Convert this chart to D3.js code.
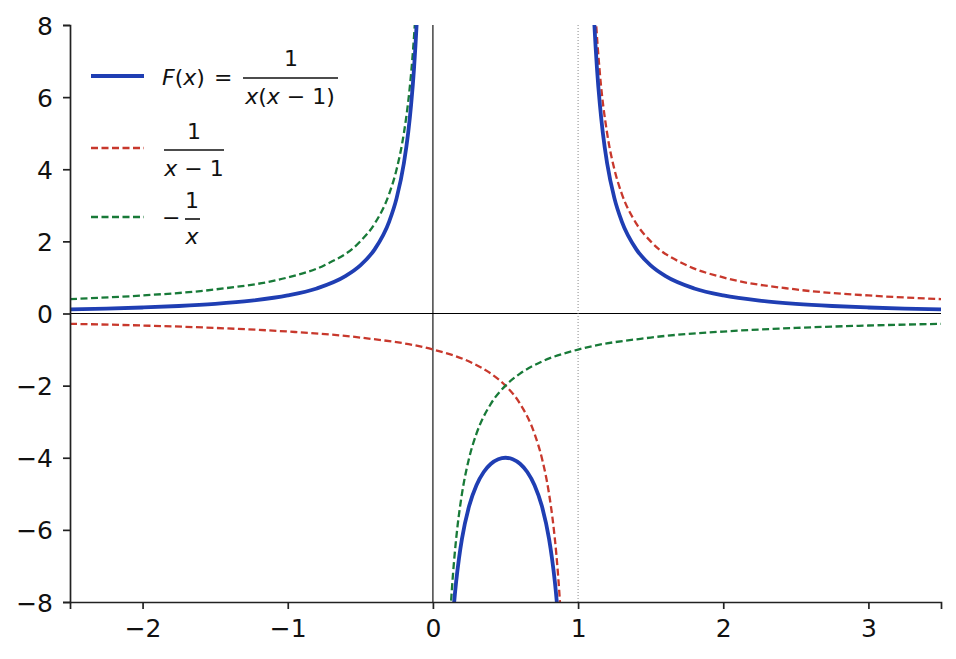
<!DOCTYPE html>
<html>
<head>
<meta charset="utf-8">
<script src="https://cdn.jsdelivr.net/npm/d3@7"></script>
<style>
  body { margin: 0; background: #fff; }
  text { font-family: "DejaVu Sans", sans-serif; }
</style>
</head>
<body>
<div id="chart"></div>
<script>
// values, one array per branch
var fLeftX = [-2.5, -2.25, -2, -1.75, -1.5, -1.25, -1, -0.8, -0.6, -0.5, -0.4, -0.3, -0.25, -0.2, -0.17, -0.15, -0.13, -0.11, -0.1, -0.09];
var fLeftY = [0.114, 0.137, 0.167, 0.208, 0.267, 0.356, 0.5, 0.694, 1.042, 1.333, 1.786, 2.564, 3.2, 4.167, 5.028, 5.797, 6.807, 8.19, 9.09, 10.19];
var fMidX = [0.1, 0.12, 0.14, 0.16, 0.18, 0.2, 0.25, 0.3, 0.35, 0.4, 0.45, 0.5, 0.55, 0.6, 0.65, 0.7, 0.75, 0.8, 0.82, 0.84, 0.86, 0.88, 0.9];
var fMidY = [-11.11, -9.47, -8.31, -7.44, -6.78, -6.25, -5.333, -4.762, -4.396, -4.167, -4.04, -4, -4.04, -4.167, -4.396, -4.762, -5.333, -6.25, -6.78, -7.44, -8.31, -9.47, -11.11];
var fRightX = [1.09, 1.1, 1.11, 1.13, 1.15, 1.17, 1.2, 1.25, 1.3, 1.4, 1.5, 1.6, 1.8, 2, 2.25, 2.5, 2.75, 3, 3.25, 3.5];
var fRightY = [10.19, 9.09, 8.19, 6.807, 5.797, 5.028, 4.167, 3.2, 2.564, 1.786, 1.333, 1.042, 0.694, 0.5, 0.356, 0.267, 0.208, 0.167, 0.137, 0.114];

var rLeftX = [-2.5, -2, -1.5, -1, -0.5, 0, 0.25, 0.4, 0.5, 0.6, 0.7, 0.75, 0.8, 0.83, 0.85, 0.87, 0.88, 0.9];
var rLeftY = [-0.286, -0.333, -0.4, -0.5, -0.667, -1, -1.333, -1.667, -2, -2.5, -3.333, -4, -5, -5.882, -6.667, -7.692, -8.333, -10];
var rRightX = [1.1, 1.12, 1.15, 1.2, 1.25, 1.3, 1.4, 1.5, 1.75, 2, 2.5, 3, 3.5];
var rRightY = [10, 8.333, 6.667, 5, 4, 3.333, 2.5, 2, 1.333, 1, 0.667, 0.5, 0.4];

var gLeftX = [-2.5, -2, -1.5, -1, -0.75, -0.5, -0.4, -0.3, -0.25, -0.2, -0.17, -0.15, -0.13, -0.12, -0.1];
var gLeftY = [0.4, 0.5, 0.667, 1, 1.333, 2, 2.5, 3.333, 4, 5, 5.882, 6.667, 7.692, 8.333, 10];
var gRightX = [0.1, 0.12, 0.13, 0.15, 0.17, 0.2, 0.25, 0.3, 0.4, 0.5, 0.6, 0.75, 1, 1.5, 2, 2.5, 3, 3.5];
var gRightY = [-10, -8.333, -7.692, -6.667, -5.882, -5, -4, -3.333, -2.5, -2, -1.667, -1.333, -1, -0.667, -0.5, -0.4, -0.333, -0.286];

var xTicks = [-2, -1, 0, 1, 2, 3];
var yTicks = [-8, -6, -4, -2, 0, 2, 4, 6, 8];

var width = 956, height = 659;
var margin = { left: 70, right: 15, top: 25, bottom: 57 };

var svg = d3.select('#chart').append('svg')
  .attr('width', width)
  .attr('height', height);

var x = d3.scaleLinear().domain([-2.5, 3.5]).range([margin.left, width - margin.right]);
var y = d3.scaleLinear().domain([-8, 8]).range([height - margin.bottom, margin.top]);

svg.append('clipPath').attr('id', 'plot')
  .append('rect')
  .attr('x', margin.left).attr('y', margin.top)
  .attr('width', x(3.5) - x(-2.5)).attr('height', y(-8) - y(8));

// reference lines
svg.append('line')
  .attr('x1', x(-2.5)).attr('x2', x(3.5)).attr('y1', y(0)).attr('y2', y(0))
  .attr('stroke', '#000').attr('stroke-width', 1.1);
svg.append('line')
  .attr('x1', x(0)).attr('x2', x(0)).attr('y1', y(-8)).attr('y2', y(8))
  .attr('stroke', '#000').attr('stroke-width', 1.1);
svg.append('line')
  .attr('x1', x(1)).attr('x2', x(1)).attr('y1', y(-8)).attr('y2', y(8))
  .attr('stroke', '#888').attr('stroke-width', 1).attr('stroke-dasharray', '1,2');

var line = d3.line()
  .x(function(d) { return x(d[0]); })
  .y(function(d) { return y(d[1]); })
  .curve(d3.curveMonotoneX);

var series = [
  { xs: rLeftX, ys: rLeftY, color: '#c8382c', w: 2.3, dash: '7,3.5' },
  { xs: rRightX, ys: rRightY, color: '#c8382c', w: 2.3, dash: '7,3.5' },
  { xs: gLeftX, ys: gLeftY, color: '#187a38', w: 2.3, dash: '7,3.5' },
  { xs: gRightX, ys: gRightY, color: '#187a38', w: 2.3, dash: '7,3.5' },
  { xs: fLeftX, ys: fLeftY, color: '#1f3eb3', w: 3.8, dash: null },
  { xs: fMidX, ys: fMidY, color: '#1f3eb3', w: 3.8, dash: null },
  { xs: fRightX, ys: fRightY, color: '#1f3eb3', w: 3.8, dash: null }
];

var curves = svg.append('g').attr('clip-path', 'url(#plot)');
series.forEach(function(s) {
  curves.append('path')
    .datum(d3.zip(s.xs, s.ys))
    .attr('d', line)
    .attr('fill', 'none')
    .attr('stroke', s.color)
    .attr('stroke-width', s.w)
    .attr('stroke-dasharray', s.dash);
});

// axes
var fmt = function(d) { return d < 0 ? '\u2212' + Math.abs(d) : String(d); };
var xAxis = svg.append('g')
  .attr('transform', 'translate(0,' + y(-8) + ')')
  .call(d3.axisBottom(x).tickValues(xTicks).tickFormat(fmt).tickSize(7).tickPadding(10));
var yAxis = svg.append('g')
  .attr('transform', 'translate(' + x(-2.5) + ',0)')
  .call(d3.axisLeft(y).tickValues(yTicks).tickFormat(fmt).tickSize(7).tickPadding(10));
[xAxis, yAxis].forEach(function(a) {
  a.attr('font-size', null).attr('font-family', null);
  a.selectAll('path').attr('stroke', '#222').attr('stroke-width', 1.7);
  a.selectAll('line').attr('stroke', '#222').attr('stroke-width', 1.7);
  a.selectAll('text').style('font-size', '25px').attr('fill', '#111')
    .style('font-family', '"DejaVu Sans", sans-serif');
});
yAxis.selectAll('text').attr('dy', '0.36em');

// legend
var leg = svg.append('g');
var legItems = [
  { y: 76, color: '#1f3eb3', w: 3.8, dash: null },
  { y: 148, color: '#c8382c', w: 2.3, dash: '7,3.5' },
  { y: 217, color: '#187a38', w: 2.3, dash: '7,3.5' }
];
legItems.forEach(function(d) {
  leg.append('line')
    .attr('x1', 91).attr('x2', 144).attr('y1', d.y).attr('y2', d.y)
    .attr('stroke', d.color).attr('stroke-width', d.w).attr('stroke-dasharray', d.dash);
});

function txt(px, py, anchor) {
  return leg.append('text').attr('x', px).attr('y', py)
    .style('font-size', '22px').attr('fill', '#111').attr('text-anchor', anchor || 'start');
}
function it(t, s) { t.append('tspan').attr('font-style', 'italic').text(s); }
function rm(t, s) { t.append('tspan').text(s); }
function bar(x1, x2, yy) {
  leg.append('line').attr('x1', x1).attr('x2', x2).attr('y1', yy).attr('y2', yy)
    .attr('stroke', '#111').attr('stroke-width', 1.6);
}

// F(x) = 1 / (x(x - 1))
var t1 = txt(162, 85);
it(t1, 'F'); rm(t1, '('); it(t1, 'x'); rm(t1, ')');
txt(214, 85).text('=');
bar(243, 338, 78);
txt(291, 66, 'middle').text('1');
var t1d = txt(290, 104, 'middle');
it(t1d, 'x'); rm(t1d, '('); it(t1d, 'x'); rm(t1d, ' \u2212 1)');

// 1 / (x - 1)
bar(164, 224, 150);
txt(194, 139, 'middle').text('1');
var t2d = txt(194, 176, 'middle');
it(t2d, 'x'); rm(t2d, ' \u2212 1');

// -1/x
txt(162, 225).text('\u2212');
bar(185, 200, 219);
txt(192, 208, 'middle').text('1');
var t3d = txt(192, 244, 'middle');
it(t3d, 'x');
</script>
</body>
</html>
